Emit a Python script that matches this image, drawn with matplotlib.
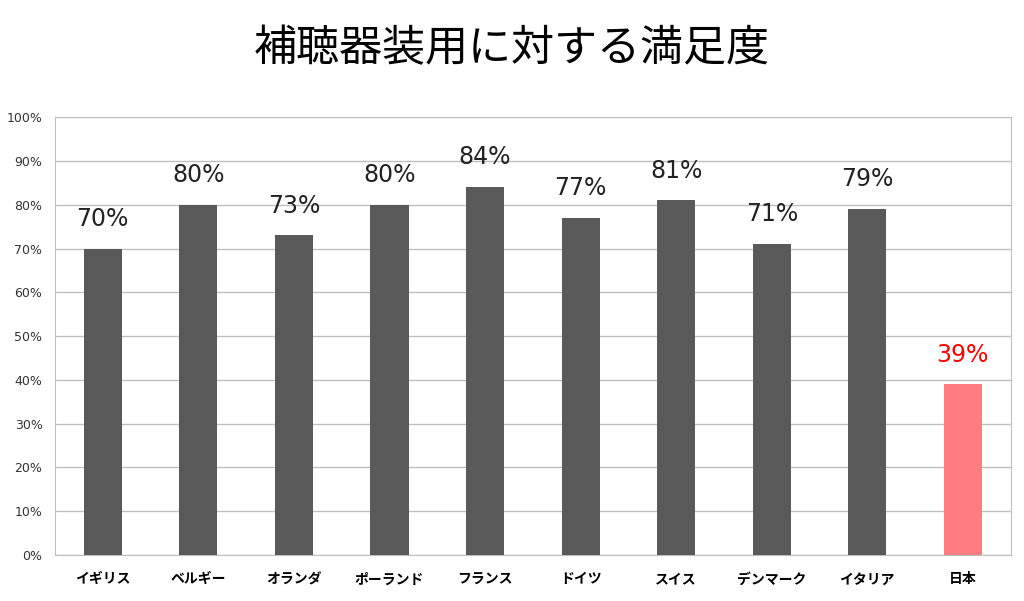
import matplotlib
matplotlib.use("Agg")
from matplotlib import pyplot as plt
import numpy as np

plt.rcParams['font.family'] = ['Noto Sans CJK JP', 'DejaVu Sans']

countries = ["イギリス", "ベルギー", "オランダ", "ポーランド", "フランス",
             "ドイツ", "スイス", "デンマーク", "イタリア", "日本"]
values = [70, 80, 73, 80, 84, 77, 81, 71, 79, 39]
title = "補聴器装用に対する満足度"

colors = ["#595959"] * 9 + ["#ff7c80"]
label_colors = ["#222222"] * 9 + ["#ff0000"]

fig = plt.figure(figsize=(10.24, 6.01), dpi=100)
ax = fig.add_axes([0.0537, 0.0765, 0.9333, 0.7285])

x = np.arange(len(countries))
bars = ax.bar(x, values, width=0.4, color=colors, zorder=3)

for (xi, v, c) in zip(x, values, label_colors):
    ax.text(xi, v + 5.2, "%d%%" % v, ha="center", va="baseline",
            fontsize=17, color=c, family=['DejaVu Sans'])

ax.set_xlim(-0.5, len(countries) - 0.5)
ax.set_ylim(0, 100)
ax.set_yticks(np.arange(0, 101, 10))
ax.set_yticklabels(["%d%%" % t for t in range(0, 101, 10)], fontsize=9,
                   family=['DejaVu Sans'], color="#333333")
ax.set_xticks(x)
ax.set_xticklabels([])
# category names drawn as text so they share one baseline
trans = ax.get_xaxis_transform()
for (xi, name) in zip(x, countries):
    ax.text(xi, -0.052, name, transform=trans, ha="center", va="center_baseline",
            fontsize=10, fontweight="bold")
ax.tick_params(axis="x", length=0)
ax.tick_params(axis="y", length=0, pad=9)
ax.grid(axis="y", color="#bfbfbf", linewidth=1, zorder=0)
for s in ["left", "right", "bottom"]:
    ax.spines[s].set_color("#bfbfbf")
ax.spines["top"].set_visible(False)

fig.text(0.5, 0.918, title, ha="center", va="center", fontsize=31)

fig.savefig("out.png", dpi=100)
